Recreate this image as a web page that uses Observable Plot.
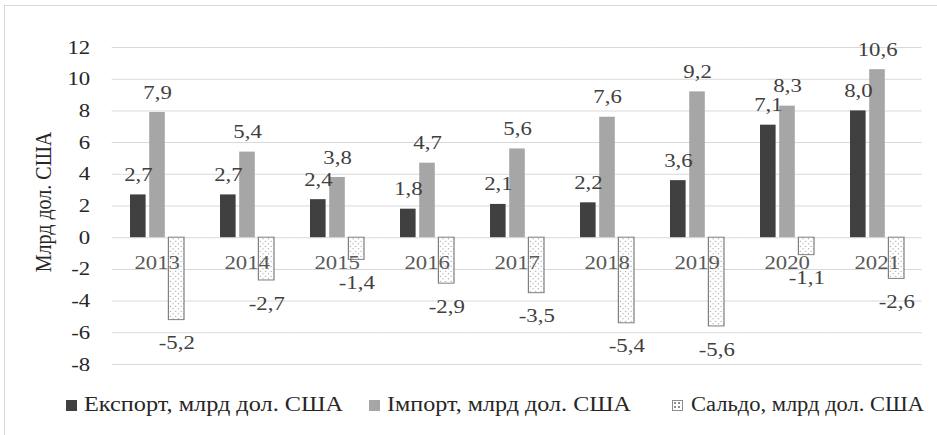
<!DOCTYPE html>
<html>
<head>
<meta charset="utf-8">
<script src="https://cdn.jsdelivr.net/npm/d3@7"></script>
<script src="https://cdn.jsdelivr.net/npm/@observablehq/plot@0.6"></script>
<style>
  html, body { margin: 0; padding: 0; background: #fff; }
  body { position: relative; width: 937px; height: 435px; overflow: hidden; }
  #frame { position: absolute; left: 4px; top: 5px; width: 940px; height: 440px; border: 1px solid #d9d9d9; box-sizing: border-box; }
  #chart { position: absolute; left: 0; top: 0; }
  #legend { position: absolute; left: 0; top: 0; width: 937px; height: 435px; pointer-events: none; }
  .sw { position: absolute; width: 11px; height: 11px; top: 400px; box-sizing: border-box; }
  .lt { position: absolute; top: 392px; font-size: 20px; line-height: 24px; color: #262626; white-space: nowrap; transform-origin: 0 50%; }
</style>
</head>
<body>
<div id="frame"></div>
<div id="chart"></div>
<div id="legend"></div>
<script>
const years = ["2013", "2014", "2015", "2016", "2017", "2018", "2019", "2020", "2021"];
const exportVals = [2.7, 2.7, 2.4, 1.8, 2.1, 2.2, 3.6, 7.1, 8.0];
const importVals = [7.9, 5.4, 3.8, 4.7, 5.6, 7.6, 9.2, 8.3, 10.6];
const saldoVals = [-5.2, -2.7, -1.4, -2.9, -3.5, -5.4, -5.6, -1.1, -2.6];
const seriesNames = ["Експорт, млрд дол. США", "Імпорт, млрд дол. США", "Сальдо, млрд дол. США"];
const yTicks = [-8, -6, -4, -2, 0, 2, 4, 6, 8, 10, 12];
const yTitle = "Млрд дол. США";

// pick installed serif faces (one for Latin/digits, one that also covers Cyrillic)
const CANDS = ["Liberation Serif", "Tinos", "Times New Roman", "DejaVu Serif", "Noto Serif", "FreeSerif",
  "PT Serif", "Nimbus Roman", "Nimbus Roman No9 L", "Noto Serif CJK SC", "Noto Serif CJK JP", "Droid Serif", "Georgia", "Times"];
function detect(sample) {
  const c = document.createElement("canvas").getContext("2d");
  const base = {};
  for (const g of ["monospace", "sans-serif"]) { c.font = `40px ${g}`; base[g] = c.measureText(sample).width; }
  for (const f of CANDS) {
    let ok = true;
    for (const g of ["monospace", "sans-serif"]) {
      c.font = `40px "${f}", ${g}`;
      if (Math.abs(c.measureText(sample).width - base[g]) < 0.5) ok = false;
    }
    if (ok) return f;
  }
  return null;
}
const cyrFont = detect("Млрд дол. США Експорт Імпорт Сальдо");
const latFont = detect("2013 10,6 -5,2 0123456789");
const FONT = [cyrFont, latFont].filter(Boolean).map(f => `"${f}"`).concat(["serif"]).join(", ");

const S = 1.2; // horizontal stretch of the reference image
const W = 937 / S;
const H = 385;

const rows = years.flatMap((yr, i) => [
  {year: yr, series: seriesNames[0], value: exportVals[i]},
  {year: yr, series: seriesNames[1], value: importVals[i]},
  {year: yr, series: seriesNames[2], value: saldoVals[i]}
]);
const pos = rows.filter(d => d.series !== seriesNames[2]);
const neg = rows.filter(d => d.series === seriesNames[2]);
const fmt = v => v.toFixed(1).replace(".", ",");
const colors = {[seriesNames[0]]: "#404040", [seriesNames[1]]: "#a6a6a6"};

const chart = Plot.plot({
  width: W,
  height: H,
  marginLeft: 110 / S,
  marginRight: 15 / S,
  marginTop: 47,
  marginBottom: 21,
  style: {fontFamily: FONT, fontSize: "19px", color: "#404040", background: "transparent"},
  fx: {domain: years, axis: null, paddingInner: 0, paddingOuter: 0, label: null},
  x: {domain: seriesNames, axis: null, paddingInner: 0.2, paddingOuter: 0.855},
  y: {domain: [-8, 12], label: null},
  marks: [
    Plot.ruleY(yTicks, {stroke: "#d9d9d9", strokeWidth: 1}),
    Plot.axisY({ticks: yTicks, tickSize: 0, tickPadding: 22 / S, tickFormat: d => String(d), fontSize: 19, label: null, fill: "#262626"}),
    Plot.barY(pos, {fx: "year", x: "series", y: "value", fill: d => colors[d.series]}),
    Plot.barY(neg, {fx: "year", x: "series", y: "value", fill: "url(#dots)", stroke: "#7f7f7f", strokeWidth: 1}),
    Plot.text(pos, {fx: "year", x: "series", y: "value", text: d => fmt(d.value), dy: -20, fontSize: 19, fill: "#404040"}),
    Plot.text(neg, {fx: "year", x: "series", y: "value", text: d => fmt(d.value), dy: 23, fontSize: 19, fill: "#404040"}),
    Plot.text(years, {fx: d => d, y: () => 0, text: d => d, dy: 25, fontSize: 19, fill: "#595959"})
  ]
});

const svg = d3.select(chart);
const defs = svg.insert("defs", ":first-child");
const pat = defs.append("pattern").attr("id", "dots").attr("patternUnits", "userSpaceOnUse").attr("width", 4.5).attr("height", 5);
pat.append("rect").attr("width", 4.5).attr("height", 5).attr("fill", "#ffffff");
pat.append("circle").attr("cx", 1.1).attr("cy", 1.2).attr("r", 0.55).attr("fill", "#8c8c8c");
pat.append("circle").attr("cx", 3.35).attr("cy", 3.7).attr("r", 0.55).attr("fill", "#8c8c8c");

svg.append("text")
  .attr("transform", `translate(${45 / S},202) rotate(-90)`)
  .attr("text-anchor", "middle")
  .attr("dominant-baseline", "middle")
  .attr("font-size", 20)
  .attr("fill", "#262626")
  .attr("font-family", FONT)
  .text(yTitle);

chart.setAttribute("viewBox", `0 0 ${W} ${H}`);
chart.setAttribute("preserveAspectRatio", "none");
chart.setAttribute("width", 937);
chart.setAttribute("height", H);
chart.style.width = "937px";
chart.style.height = H + "px";
chart.style.maxWidth = "none";
document.getElementById("chart").appendChild(chart);

// legend: swatch x, text start, text end (pixels of the reference)
const legendPos = [[66, 84, 343], [369, 387, 631], [672, 691, 924]];
const swStyles = [
  {background: "#404040"},
  {background: "#a6a6a6"},
  {background: "#fff radial-gradient(circle, #8c8c8c 0.8px, transparent 1.2px) 0 0 / 4px 4px", border: "1px solid #8c8c8c"}
];
const legend = document.getElementById("legend");
seriesNames.forEach((name, i) => {
  const [sx, tx0, tx1] = legendPos[i];
  const sw = document.createElement("div");
  sw.className = "sw";
  sw.style.left = sx + "px";
  Object.entries(swStyles[i]).forEach(([k, v]) => sw.style[k] = v);
  legend.appendChild(sw);
  const t = document.createElement("span");
  t.className = "lt";
  t.style.fontFamily = FONT;
  t.style.left = tx0 + "px";
  t.textContent = name;
  legend.appendChild(t);
  const w = t.getBoundingClientRect().width;
  if (w > 0) t.style.transform = `scaleX(${(tx1 - tx0) / w})`;
});
</script>
</body>
</html>
